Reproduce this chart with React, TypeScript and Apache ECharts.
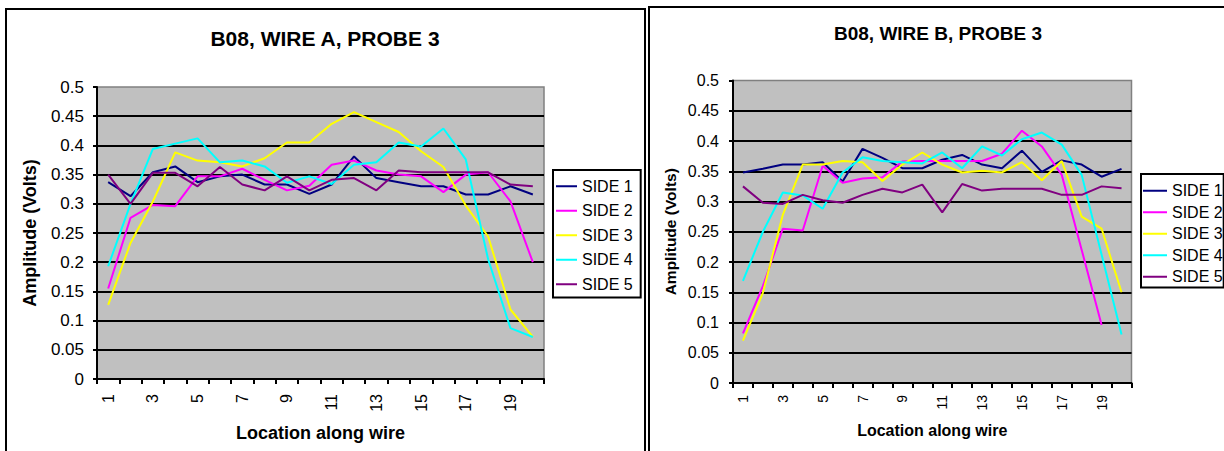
import React, { useEffect, useRef } from "react";
import * as echarts from "echarts";

const categories = ["1","2","3","4","5","6","7","8","9","10","11","12","13","14","15","16","17","18","19","20"];
const seriesNames = ["SIDE 1", "SIDE 2", "SIDE 3", "SIDE 4", "SIDE 5"];
const seriesColors = ["#000080", "#FF00FF", "#FFFF00", "#00FFFF", "#800080"];

const wireA1 = [0.337, 0.313, 0.354, 0.364, 0.337, 0.347, 0.35, 0.333, 0.333, 0.317, 0.333, 0.381, 0.344, 0.337, 0.33, 0.33, 0.316, 0.316, 0.33, 0.316];
const wireA2 = [0.155, 0.276, 0.298, 0.296, 0.347, 0.347, 0.36, 0.341, 0.323, 0.331, 0.367, 0.374, 0.357, 0.35, 0.347, 0.32, 0.35, 0.354, 0.304, 0.2];
const wireA3 = [0.127, 0.233, 0.304, 0.388, 0.374, 0.371, 0.364, 0.378, 0.405, 0.405, 0.437, 0.457, 0.44, 0.423, 0.39, 0.363, 0.297, 0.244, 0.119, 0.072];
const wireA4 = [0.193, 0.3, 0.394, 0.403, 0.412, 0.371, 0.374, 0.364, 0.336, 0.347, 0.334, 0.367, 0.371, 0.405, 0.398, 0.429, 0.376, 0.205, 0.087, 0.072];
const wireA5 = [0.35, 0.3, 0.353, 0.353, 0.33, 0.363, 0.333, 0.323, 0.347, 0.323, 0.341, 0.344, 0.323, 0.357, 0.354, 0.354, 0.354, 0.354, 0.333, 0.33];

const wireB1 = [0.348, 0.354, 0.361, 0.361, 0.365, 0.333, 0.387, 0.372, 0.355, 0.355, 0.369, 0.377, 0.361, 0.355, 0.384, 0.349, 0.368, 0.361, 0.341, 0.354];
const wireB2 = [0.082, 0.16, 0.255, 0.252, 0.359, 0.331, 0.338, 0.34, 0.366, 0.367, 0.367, 0.367, 0.367, 0.379, 0.417, 0.391, 0.344, 0.22, 0.096, null];
const wireB3 = [0.07, 0.149, 0.278, 0.361, 0.361, 0.367, 0.365, 0.334, 0.361, 0.381, 0.361, 0.348, 0.351, 0.348, 0.365, 0.335, 0.367, 0.275, 0.255, 0.15];
const wireB4 = [0.169, 0.25, 0.315, 0.31, 0.288, 0.348, 0.373, 0.367, 0.365, 0.363, 0.381, 0.355, 0.391, 0.376, 0.403, 0.414, 0.394, 0.344, 0.212, 0.08];
const wireB5 = [0.325, 0.298, 0.296, 0.311, 0.302, 0.298, 0.311, 0.321, 0.315, 0.328, 0.282, 0.329, 0.318, 0.321, 0.321, 0.321, 0.311, 0.311, 0.325, 0.322];

const titleA = "B08, WIRE A, PROBE 3";
const titleB = "B08, WIRE B, PROBE 3";
const xAxisName = "Location along wire";
const yAxisName = "Amplitude (Volts)";

const FONT = "'Liberation Sans', Arial, Helvetica, sans-serif";

function makeX(gridIndex: number, fs: number, nameFs: number, nameGap: number, margin: number) {
  return {
    type: "category",
    gridIndex,
    data: categories,
    boundaryGap: true,
    name: xAxisName,
    nameLocation: "middle",
    nameGap,
    nameTextStyle: { fontFamily: FONT, fontWeight: "bold", fontSize: nameFs, color: "#000" },
    axisLine: { show: true, lineStyle: { color: "#000", width: 2 } },
    axisTick: { show: true, interval: 0, length: 5, lineStyle: { color: "#000", width: 2 } },
    axisLabel: { interval: 1, rotate: 90, margin, fontFamily: FONT, fontSize: fs, color: "#000" },
    splitLine: { show: false },
  };
}

function makeY(gridIndex: number, fs: number, nameFs: number, nameGap: number, margin: number) {
  return {
    type: "value",
    gridIndex,
    min: 0,
    max: 0.5,
    interval: 0.05,
    name: yAxisName,
    nameLocation: "middle",
    nameGap,
    nameTextStyle: { fontFamily: FONT, fontWeight: "bold", fontSize: nameFs, color: "#000" },
    axisLine: { show: true, lineStyle: { color: "#000", width: 2 } },
    axisTick: { show: true, length: 4, lineStyle: { color: "#000", width: 2 } },
    axisLabel: {
      margin,
      fontFamily: FONT,
      fontSize: fs,
      color: "#000",
      formatter: (v: number) => String(parseFloat(v.toFixed(2))),
    },
    splitLine: { show: true, showMinLine: false, showMaxLine: false, lineStyle: { color: "#000", width: 2 } },
  };
}

function makeSeries(data: (number | null)[], i: number, axisIndex: number) {
  return {
    type: "line",
    name: seriesNames[i],
    data,
    xAxisIndex: axisIndex,
    yAxisIndex: axisIndex,
    symbol: "none",
    showSymbol: false,
    connectNulls: false,
    lineStyle: { color: seriesColors[i], width: 2 },
    itemStyle: { color: seriesColors[i] },
    emphasis: { disabled: true },
  };
}

export default function App() {
  const ref = useRef<HTMLDivElement>(null);
  useEffect(() => {
    if (!ref.current) return;
    const chart = echarts.init(ref.current, undefined, { renderer: "svg" });
    const wireA = [wireA1, wireA2, wireA3, wireA4, wireA5];
    const wireB = [wireB1, wireB2, wireB3, wireB4, wireB5];
    const option: any = {
      animation: false,
      backgroundColor: "#ffffff",
      title: [
        {
          text: titleA,
          left: 325,
          top: 26,
          textAlign: "center",
          padding: 0,
          textStyle: { fontFamily: FONT, fontWeight: "bold", fontSize: 21, lineHeight: 25, color: "#000" },
        },
        {
          text: titleB,
          left: 938,
          top: 22,
          textAlign: "center",
          padding: 0,
          textStyle: { fontFamily: FONT, fontWeight: "bold", fontSize: 19, lineHeight: 23, color: "#000" },
        },
      ],
      legend: [
        {
          orient: "vertical",
          left: 553,
          top: 170,
          padding: [4, 8, 1, 3],
          itemGap: 0,
          itemWidth: 21,
          itemHeight: 2,
          itemTextGap: 3,
          icon: "rect",
          borderColor: "#000",
          borderWidth: 2,
          selectedMode: false,
          data: seriesNames,
          textStyle: { fontFamily: FONT, fontSize: 16, lineHeight: 24.5, color: "#000" },
        },
        {
          orient: "vertical",
          left: 1141,
          top: 174,
          padding: [6, 1, 0, 2],
          itemGap: 0,
          itemWidth: 24,
          itemHeight: 2,
          itemTextGap: 2,
          icon: "rect",
          borderColor: "#000",
          borderWidth: 2,
          selectedMode: false,
          data: seriesNames,
          textStyle: { fontFamily: FONT, fontSize: 16, lineHeight: 21.5, color: "#000" },
        },
      ],
      grid: [
        {
          left: 97,
          top: 87,
          width: 447,
          height: 292,
          show: true,
          backgroundColor: "#C0C0C0",
          borderColor: "#808080",
          borderWidth: 1.5,
        },
        {
          left: 733,
          top: 80.5,
          width: 398.5,
          height: 302.5,
          show: true,
          backgroundColor: "#C0C0C0",
          borderColor: "#808080",
          borderWidth: 1.5,
        },
      ],
      xAxis: [makeX(0, 16, 18, 45, 15), makeX(1, 14, 16, 39, 12)],
      yAxis: [makeY(0, 17, 18, 58, 13), makeY(1, 16, 15.5, 55, 14)],
      series: [
        ...wireA.map((d, i) => makeSeries(d, i, 0)),
        ...wireB.map((d, i) => makeSeries(d, i, 1)),
      ],
      graphic: [
        {
          type: "rect",
          silent: true,
          z: 100,
          shape: { x: 6, y: 9, width: 639, height: 470 },
          style: { fill: "none", stroke: "#000", lineWidth: 2 },
        },
        {
          type: "rect",
          silent: true,
          z: 100,
          shape: { x: 649, y: 7, width: 600, height: 470 },
          style: { fill: "none", stroke: "#000", lineWidth: 2 },
        },
      ],
    };
    chart.setOption(option);
    return () => chart.dispose();
  }, []);
  return (
    <div
      ref={ref}
      style={{ position: "absolute", left: 0, top: 0, width: 1224, height: 451, background: "#fff" }}
    />
  );
}
